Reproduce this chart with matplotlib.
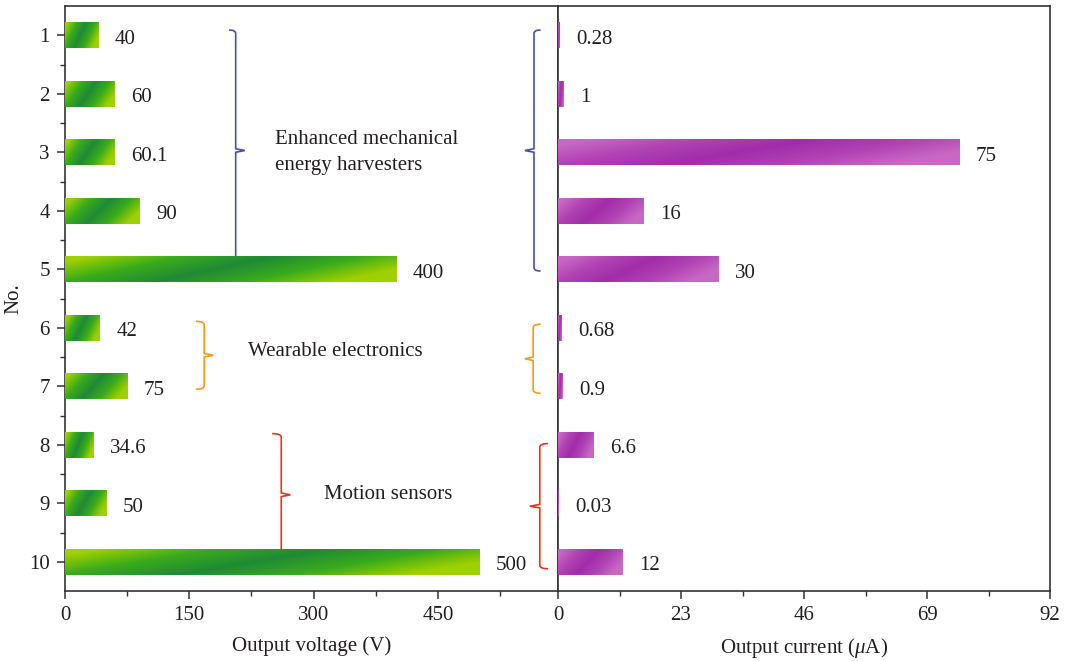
import numpy as np
import matplotlib
matplotlib.use("Agg")
import matplotlib.pyplot as plt
from matplotlib.colors import LinearSegmentedColormap
from matplotlib.path import Path
from matplotlib.patches import PathPatch

plt.rcParams['font.family'] = ['Liberation Serif', 'DejaVu Serif']
plt.rcParams['mathtext.fontset'] = 'custom'
plt.rcParams['mathtext.it'] = 'Liberation Serif:italic'
plt.rcParams['mathtext.rm'] = 'Liberation Serif'

# data
numbers = [1, 2, 3, 4, 5, 6, 7, 8, 9, 10]
voltage = [40, 60, 60.1, 90, 400, 42, 75, 34.6, 50, 500]
current = [0.28, 1, 75, 16, 30, 0.68, 0.9, 6.6, 0.03, 12]
voltage_labels = ['40', '60', '60.1', '90', '400', '42', '75', '34.6', '50', '500']
current_labels = ['0.28', '1', '75', '16', '30', '0.68', '0.9', '6.6', '0.03', '12']
groups = ['Enhanced mechanical\nenergy harvesters', 'Wearable electronics', 'Motion sensors']

TXT = '#231f20'
FS = 15
green = LinearSegmentedColormap.from_list('g', ['#1f8a36', '#3aab1c', '#9fd000'])
purple = LinearSegmentedColormap.from_list('p', ['#a22ca9', '#b043b3', '#c868c4'])

fig = plt.figure(figsize=(10.69, 6.61), dpi=100)
ax1 = fig.add_axes([0.0608, 0.1059, 0.4612, 0.885])
ax2 = fig.add_axes([0.5220, 0.1059, 0.4603, 0.885])


def gradient_bars(ax, bars, cmap):
    n_r, n_c = 30, 300
    u = np.linspace(0, 1, n_c)[None, :]
    s = np.linspace(0, 1, n_r)[:, None]
    d = (u - 0.45) - 0.35 * (0.5 - s)
    t = np.clip(np.abs(d) / 0.55, 0, 1)
    for p in bars:
        x0, y0 = p.get_x(), p.get_y()
        w, h = p.get_width(), p.get_height()
        im = ax.imshow(t, cmap=cmap, vmin=0, vmax=1, origin='lower', aspect='auto',
                       extent=(x0, x0 + w, y0, y0 + h), zorder=3, interpolation='bilinear')
        im.set_clip_path(p)


def brace(ax, x, y0, y1, hook, tip, color):
    # square-ish curly brace; hooks at the ends, point in the middle
    ym = (y0 + y1) / 2
    dy = 0.06
    verts = [(x + hook, y0), (x, y0), (x, y0 + dy), (x, ym - dy * 0.5), (x + tip, ym),
             (x, ym + dy * 0.5), (x, y1 - dy), (x, y1), (x + hook, y1)]
    codes = [Path.MOVETO, Path.CURVE3, Path.CURVE3, Path.LINETO, Path.LINETO,
             Path.LINETO, Path.LINETO, Path.CURVE3, Path.CURVE3]
    ax.add_patch(PathPatch(Path(verts, codes), fill=False, edgecolor=color, lw=1.2, zorder=1.5))


b1 = ax1.barh(numbers, voltage, height=0.44, color='#3aab1c', zorder=2)
gradient_bars(ax1, b1, green)
b2 = ax2.barh(numbers, current, height=0.44, color='#b043b3', zorder=2)
gradient_bars(ax2, b2, purple)

for n, v, lab in zip(numbers, voltage, voltage_labels):
    ax1.annotate(lab, (v, n + 0.07), xytext=(12, 0), textcoords='offset points',
                 va='center', ha='left', fontsize=FS, color=TXT)
for n, v, lab in zip(numbers, current, current_labels):
    ax2.annotate(lab, (v, n + 0.07), xytext=(12, 0), textcoords='offset points',
                 va='center', ha='left', fontsize=FS, color=TXT)

# braces
brace(ax1, 206, 0.91, 5.03, -8, 11, '#4c4cb0')
brace(ax1, 566, 0.91, 5.03, 8, -11, '#4c4cb0')
brace(ax1, 168, 5.89, 7.05, -10, 11, '#f39a1e')
brace(ax1, 565, 5.94, 7.12, 9, -10, '#f39a1e')
brace(ax1, 261, 7.81, 9.9, -11, 11, '#e8332a')
brace(ax1, 573, 7.98, 10.12, 10, -12, '#e8332a')

ax1.text(253, 3.0, groups[0], fontsize=FS, color=TXT, va='center', ha='left', linespacing=1.5)
ax1.text(221, 6.40, groups[1], fontsize=FS, color=TXT, va='center', ha='left')
ax1.text(313, 8.85, groups[2], fontsize=FS, color=TXT, va='center', ha='left')

ax1.set_xlim(0, 595)
ax1.set_ylim(10.5, 0.5)
ax1.set_xticks([0, 150, 300, 450])
ax1.set_xticks([75, 225, 375, 525], minor=True)
ax1.set_yticks(numbers)
ax1.set_yticks(np.arange(1.5, 10.5, 1), minor=True)
ax1.set_xlabel('Output voltage (V)', fontsize=FS, color=TXT, labelpad=8)
ax1.set_ylabel('No.', fontsize=FS, color=TXT, labelpad=4)

ax2.set_xlim(0, 92)
ax2.set_ylim(10.5, 0.5)
ax2.set_xticks([0, 23, 46, 69, 92])
ax2.set_xticks([11.5, 34.5, 57.5, 80.5], minor=True)
ax2.set_yticks([])
ax2.set_xlabel(r'Output current ($\mu$A)', fontsize=FS, color=TXT, labelpad=8)

for ax in (ax1, ax2):
    for sp in ax.spines.values():
        sp.set_color('#333333')
        sp.set_linewidth(1.2)
    ax.tick_params(which='major', direction='out', length=6, width=1.1, color='#333333',
                   labelsize=FS, labelcolor=TXT, pad=5)
    ax.tick_params(which='minor', direction='out', length=3.5, width=1.0, color='#333333')
ax2.tick_params(axis='y', which='both', left=False)

fig.savefig('out.png', dpi=100)
